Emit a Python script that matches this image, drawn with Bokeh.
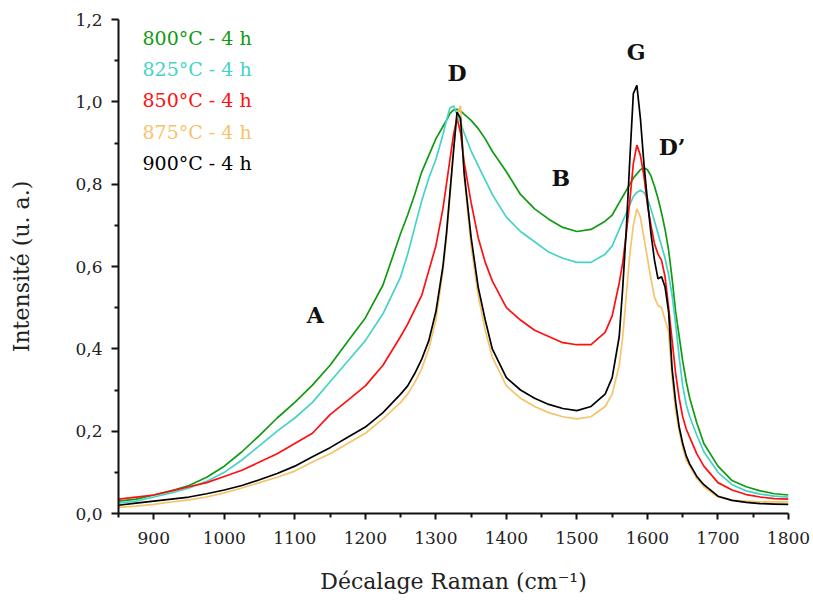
from bokeh.plotting import figure
from bokeh.models import Label, FixedTicker, CustomJSTickFormatter, Range1d
from bokeh.embed import file_html
from bokeh.resources import INLINE

# ---- data ----
raman_shift = [850, 875, 900, 925, 950, 975, 1000, 1025, 1050, 1075, 1100, 1125, 1150, 1175, 1200,
               1225, 1250, 1260, 1270, 1280, 1290, 1300, 1310, 1315, 1320, 1325, 1330, 1335, 1340,
               1350, 1360, 1370, 1380, 1400, 1420, 1440, 1460, 1480, 1500, 1520, 1540, 1550, 1560,
               1565, 1570, 1575, 1580, 1585, 1590, 1595, 1600, 1605, 1610, 1615, 1620, 1625, 1630,
               1635, 1640, 1645, 1650, 1655, 1660, 1670, 1680, 1700, 1720, 1740, 1760, 1780, 1800]

int_800 = [0.030, 0.035, 0.045, 0.055, 0.068, 0.088, 0.115, 0.150, 0.190, 0.232, 0.270, 0.312, 0.360, 0.418, 0.475,
           0.555, 0.680, 0.725, 0.775, 0.830, 0.870, 0.910, 0.940, 0.955, 0.972, 0.980, 0.982, 0.978, 0.970,
           0.955, 0.935, 0.910, 0.880, 0.830, 0.775, 0.740, 0.715, 0.695, 0.685, 0.690, 0.710, 0.725, 0.755,
           0.770, 0.785, 0.800, 0.815, 0.825, 0.835, 0.840, 0.835, 0.820, 0.795, 0.765, 0.730, 0.690, 0.640,
           0.570, 0.490, 0.430, 0.370, 0.320, 0.280, 0.220, 0.170, 0.115, 0.080, 0.065, 0.055, 0.048, 0.045]

int_825 = [0.025, 0.030, 0.040, 0.050, 0.062, 0.078, 0.100, 0.130, 0.165, 0.200, 0.232, 0.270, 0.320, 0.370, 0.420,
           0.485, 0.575, 0.630, 0.695, 0.760, 0.815, 0.860, 0.920, 0.955, 0.985, 0.990, 0.970, 0.950, 0.925,
           0.880, 0.845, 0.810, 0.775, 0.720, 0.685, 0.660, 0.635, 0.620, 0.610, 0.610, 0.630, 0.650, 0.690,
           0.710, 0.730, 0.750, 0.770, 0.780, 0.785, 0.780, 0.765, 0.740, 0.710, 0.680, 0.650, 0.620, 0.580,
           0.530, 0.460, 0.380, 0.310, 0.265, 0.235, 0.190, 0.150, 0.100, 0.070, 0.055, 0.047, 0.042, 0.040]

int_850 = [0.035, 0.040, 0.045, 0.055, 0.065, 0.075, 0.090, 0.105, 0.125, 0.145, 0.170, 0.195, 0.240, 0.275, 0.310,
           0.360, 0.430, 0.460, 0.495, 0.530, 0.590, 0.650, 0.740, 0.800, 0.860, 0.920, 0.960, 0.925, 0.855,
           0.755, 0.670, 0.610, 0.565, 0.500, 0.470, 0.445, 0.430, 0.415, 0.410, 0.410, 0.440, 0.480, 0.560,
           0.610, 0.680, 0.760, 0.850, 0.895, 0.870, 0.820, 0.750, 0.700, 0.655, 0.630, 0.615, 0.575, 0.500,
           0.420, 0.340, 0.280, 0.235, 0.205, 0.185, 0.145, 0.115, 0.075, 0.057, 0.046, 0.040, 0.036, 0.035]

int_875 = [0.015, 0.018, 0.022, 0.028, 0.033, 0.040, 0.050, 0.062, 0.075, 0.088, 0.103, 0.125, 0.145, 0.170, 0.195,
           0.230, 0.270, 0.290, 0.318, 0.352, 0.400, 0.470, 0.590, 0.670, 0.770, 0.880, 0.970, 0.990, 0.820,
           0.650, 0.530, 0.445, 0.380, 0.310, 0.280, 0.260, 0.245, 0.235, 0.230, 0.235, 0.260, 0.290, 0.360,
           0.430, 0.530, 0.630, 0.700, 0.740, 0.720, 0.670, 0.620, 0.570, 0.525, 0.505, 0.500, 0.470, 0.440,
           0.330, 0.250, 0.200, 0.160, 0.130, 0.115, 0.085, 0.065, 0.040, 0.032, 0.030, 0.028, 0.028, 0.028]

int_900 = [0.020, 0.025, 0.030, 0.035, 0.040, 0.048, 0.057, 0.068, 0.082, 0.097, 0.115, 0.138, 0.160, 0.185, 0.210,
           0.245, 0.290, 0.310, 0.340, 0.375, 0.420, 0.490, 0.600, 0.680, 0.780, 0.880, 0.975, 0.960, 0.830,
           0.670, 0.550, 0.470, 0.400, 0.330, 0.300, 0.280, 0.265, 0.255, 0.250, 0.260, 0.290, 0.330, 0.430,
           0.550, 0.690, 0.860, 1.020, 1.040, 0.960, 0.850, 0.760, 0.680, 0.615, 0.570, 0.575, 0.550, 0.490,
           0.350, 0.270, 0.210, 0.170, 0.140, 0.120, 0.090, 0.070, 0.042, 0.032, 0.027, 0.024, 0.023, 0.022]

series_labels = ["800°C - 4 h", "825°C - 4 h", "850°C - 4 h", "875°C - 4 h", "900°C - 4 h"]
series_values = [int_800, int_825, int_850, int_875, int_900]
series_colors = ["#129a12", "#45d3c6", "#ff1010", "#f5c46a", "#000000"]

x_ticks = [900, 1000, 1100, 1200, 1300, 1400, 1500, 1600, 1700, 1800]
x_minor = [850, 950, 1050, 1150, 1250, 1350, 1450, 1550, 1650, 1750]
y_ticks = [0.0, 0.2, 0.4, 0.6, 0.8, 1.0, 1.2]
y_minor = [0.1, 0.3, 0.5, 0.7, 0.9, 1.1]

band_names = ["A", "D", "B", "G", "D\u2019"]
band_x = [1129, 1330, 1477, 1584, 1635]
band_y = [0.483, 1.069, 0.816, 1.120, 0.891]

SERIF = "DejaVu Serif"

p = figure(width=813, height=600, output_backend="svg", toolbar_location=None,
           x_range=Range1d(850, 1800), y_range=Range1d(0, 1.2),
           min_border_left=118, min_border_right=25, min_border_top=19, min_border_bottom=87)
p.outline_line_color = None
p.xgrid.visible = False
p.ygrid.visible = False

# draw order: green, cyan, red, orange, black
for idx in [0, 1, 2, 3, 4]:
    p.line(raman_shift, series_values[idx], line_color=series_colors[idx], line_width=1.7)

for ax in (p.xaxis[0], p.yaxis[0]):
    ax.axis_line_width = 2
    ax.axis_line_color = "#111111"
    ax.major_tick_line_width = 2
    ax.minor_tick_line_width = 2
    ax.major_tick_line_color = "#111111"
    ax.minor_tick_line_color = "#111111"
    ax.major_tick_in = 0
    ax.minor_tick_in = 0
    ax.major_label_text_font = SERIF
    ax.major_label_text_font_size = "17px"
    ax.major_label_text_color = "#222222"
    ax.axis_label_text_font = SERIF
    ax.axis_label_text_font_size = "22px"
    ax.axis_label_text_font_style = "normal"
    ax.axis_label_text_color = "#222222"

p.xaxis.ticker = FixedTicker(ticks=x_ticks, minor_ticks=x_minor)
p.yaxis.ticker = FixedTicker(ticks=y_ticks, minor_ticks=y_minor)
p.yaxis.formatter = CustomJSTickFormatter(code="return tick.toFixed(1).replace('.', ',');")
p.xaxis.major_tick_out = 6
p.xaxis.minor_tick_out = 4
p.yaxis.major_tick_out = 7
p.yaxis.minor_tick_out = 4
p.xaxis.major_label_standoff = 12
p.yaxis.major_label_standoff = 9
p.xaxis.axis_label = "Décalage Raman (cm\u207b\u00b9)"
p.yaxis.axis_label = "Intensité (u. a.)"
p.xaxis.axis_label_standoff = 22
p.yaxis.axis_label_standoff = 38

# legend as coloured texts
for i, (lab, col) in enumerate(zip(series_labels, series_colors)):
    p.add_layout(Label(x=884, y=1.156 - i * 0.0762, text=lab, text_color=col,
                       text_font=SERIF, text_font_size="19px",
                       text_align="left", text_baseline="middle"))

# band annotations
for name, bx, by in zip(band_names, band_x, band_y):
    p.add_layout(Label(x=bx, y=by, text=name, text_color="#111111",
                       text_font=SERIF, text_font_size="22px", text_font_style="bold",
                       text_align="center", text_baseline="middle"))

open("out.html", "w").write(file_html(p, INLINE))
